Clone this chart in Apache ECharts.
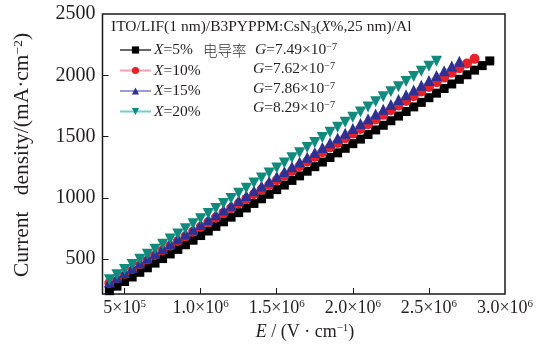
<!DOCTYPE html>
<html><head><meta charset="utf-8">
<script src="https://cdn.jsdelivr.net/npm/echarts@6/dist/echarts.min.js"></script>
<style>html,body{margin:0;padding:0;background:#fff}#c{width:549px;height:348px}</style>
</head><body><div id="c"></div>
<script>
// Electric field E (V/cm)
const E = [400000,450000,500000,550000,600000,650000,700000,750000,800000,850000,
  900000,950000,1000000,1050000,1100000,1150000,1200000,1250000,1300000,1350000,
  1400000,1450000,1500000,1550000,1600000,1650000,1700000,1750000,1800000,1850000,
  1900000,1950000,2000000,2050000,2100000,2150000,2200000,2250000,2300000,2350000,
  2400000,2450000,2500000,2550000,2600000,2650000,2700000,2750000,2800000,2850000,2900000];
// Current density (mA/cm^2)
const J5 = [242,279,317,354,392,429,467,504,542,579,617,654,692,729,767,804,842,879,917,954,
  992,1029,1067,1104,1142,1179,1217,1254,1292,1329,1367,1404,1442,1479,1517,1554,1592,1629,1667,1704,
  1742,1779,1817,1854,1892,1929,1967,2004,2042,2079,2117];
const J10 = [305,343,381,419,457,496,534,572,610,648,686,724,762,800,838,877,915,953,991,1029,
  1067,1105,1143,1181,1219,1258,1296,1334,1372,1410,1448,1486,1524,1562,1600,1639,1677,1715,1753,1791,
  1829,1867,1905,1943,1981,2020,2058,2096,2134];
const J15 = [312,351,390,430,469,508,547,586,626,665,704,743,782,822,861,900,939,978,1018,1057,
  1096,1135,1174,1214,1253,1292,1331,1370,1410,1449,1488,1527,1566,1606,1645,1684,1723,1762,1802,1841,
  1880,1919,1958,1998,2037,2076,2115];
const J20 = [332,373,415,456,498,539,581,622,664,705,747,788,829,871,912,954,995,1037,1078,1120,
  1161,1202,1244,1285,1327,1368,1410,1451,1493,1534,1576,1617,1658,1700,1741,1783,1824,1866,1907,1949,
  1990,2032,2073,2114];
const seriesPct = ['5%','10%','15%','20%'];
const gValues = ['7.49','7.62','7.86','8.29'];
const gExp = '−7';
const yTicks = [500,1000,1500,2000,2500];
const xTicks = [500000,1000000,1500000,2000000,2500000,3000000];
const xTickMant = ['5','1.0','1.5','2.0','2.5','3.0'];
const xTickExp = ['5','6','6','6','6','6'];

const FONT = 'Liberation Serif';
const TXT = '#231f20';
const seriesJ = [J5, J10, J15, J20];
const markerColors = ['#000000','#e8202a','#2e3192','#0f8a7c'];
const lineColors = ['#6a6a6a','#f3a3ac','#9a9cd6','#6fd3c9'];
const symbols = ['rect','circle','triangle','triangle'];
const rotates = [0,0,0,180];
const sizes = [9,10,11,11];

const series = seriesJ.map((J, i) => ({
  name: seriesPct[i],
  type: 'line',
  data: J.map((v, k) => [E[k], v]),
  symbol: symbols[i],
  symbolRotate: rotates[i],
  symbolSize: sizes[i],
  showAllSymbol: true,
  lineStyle: { color: lineColors[i], width: 1 },
  itemStyle: { color: markerColors[i] },
  emphasis: { disabled: true },
  animation: false,
  z: 2 + i
}));

const supRich = { fontFamily: FONT, fontSize: 11, color: TXT, verticalAlign: 'top' };

const graphics = [
  { type: 'text', left: 111, top: 19, style: {
      text: 'ITO/LIF(1 nm)/B3PYPPM:CsN{sub|3}({i|X}%,25 nm)/Al',
      fontFamily: FONT, fontSize: 15.5, fill: TXT,
      rich: { sub: { fontFamily: FONT, fontSize: 10, verticalAlign: 'bottom', fill: TXT },
              i: { fontFamily: FONT, fontSize: 15.5, fontStyle: 'italic', fill: TXT } } } },
  { type: 'text', x: 203, y: 50, style: { text: '电导率', fontFamily: 'Noto Sans CJK SC', fontSize: 14.5, fontWeight: 300, fill: '#333', verticalAlign: 'middle' } }
];
const gX = [255, 253, 253, 253];
const gY = [50, 69, 89, 108];
gValues.forEach((g, i) => {
  graphics.push({ type: 'text', x: gX[i], y: gY[i], style: {
    text: '{i|G}=' + g + '×10{s|' + gExp + '}',
    fontFamily: FONT, fontSize: 15.5, fill: TXT, verticalAlign: 'middle',
    rich: { i: { fontFamily: FONT, fontSize: 15.5, fontStyle: 'italic', fill: TXT },
            s: { fontFamily: FONT, fontSize: 10, fill: TXT, verticalAlign: 'top' } } } });
});
// y-axis title
graphics.push({ type: 'text', x: 22, y: 155, rotation: Math.PI / 2, style: {
  text: 'Current   density/(mA·cm{s|−2})', align: 'center', verticalAlign: 'middle',
  fontFamily: FONT, fontSize: 21.5, fill: TXT,
  rich: { s: { fontFamily: FONT, fontSize: 13.5, fill: TXT, verticalAlign: 'top' } } } });
// x-axis title
graphics.push({ type: 'text', x: 305, y: 332, style: {
  text: '{i|E} / (V · cm{s|−1})', align: 'center', verticalAlign: 'middle',
  fontFamily: FONT, fontSize: 18, fill: TXT,
  rich: { i: { fontFamily: FONT, fontSize: 18, fontStyle: 'italic', fill: TXT },
          s: { fontFamily: FONT, fontSize: 11, fill: TXT, verticalAlign: 'top' } } } });

const option = {
  animation: false,
  backgroundColor: '#ffffff',
  grid: { left: 102.5, right: 44, top: 14, bottom: 54, show: true, borderColor: '#1a1a1a', borderWidth: 1.5, containLabel: false },
  xAxis: {
    type: 'value', min: 355000, max: 3000000,
    splitLine: { show: false },
    axisLine: { show: false },
    axisTick: { show: true, inside: true, length: 6, customValues: xTicks.slice(0, 5), lineStyle: { color: '#1a1a1a', width: 1 } },
    axisLabel: {
      customValues: xTicks, margin: 5,
      formatter: (v) => { const k = xTicks.indexOf(v); return k < 0 ? '' : '{m|' + xTickMant[k] + '×10}{s|' + xTickExp[k] + '}'; },
      rich: { m: { fontFamily: FONT, fontSize: 18, color: TXT }, s: supRich }
    }
  },
  yAxis: {
    type: 'value', min: 215, max: 2500,
    splitLine: { show: false },
    axisLine: { show: false },
    axisTick: { show: true, inside: true, length: 6, customValues: yTicks.slice(0, 4), lineStyle: { color: '#1a1a1a', width: 1 } },
    axisLabel: { customValues: yTicks, margin: 7, fontFamily: FONT, fontSize: 20, color: TXT, formatter: (v) => String(v) }
  },
  legend: {
    orient: 'vertical', left: 114, top: 37, itemWidth: 31, itemHeight: 9, itemGap: 4.5,
    data: seriesPct, selectedMode: false,
    formatter: (n) => '{i|X}{n|=' + n + '}',
    textStyle: { fontFamily: FONT, fontSize: 15.5, color: TXT, padding: [0,0,0,-2],
      rich: { i: { fontFamily: FONT, fontSize: 15.5, fontStyle: 'italic', color: TXT },
              n: { fontFamily: FONT, fontSize: 15.5, color: TXT } } }
  },
  graphic: graphics,
  series: series
};
const chart = echarts.init(document.getElementById('c'), null, { renderer: 'canvas' });
chart.setOption(option);
</script></body></html>
